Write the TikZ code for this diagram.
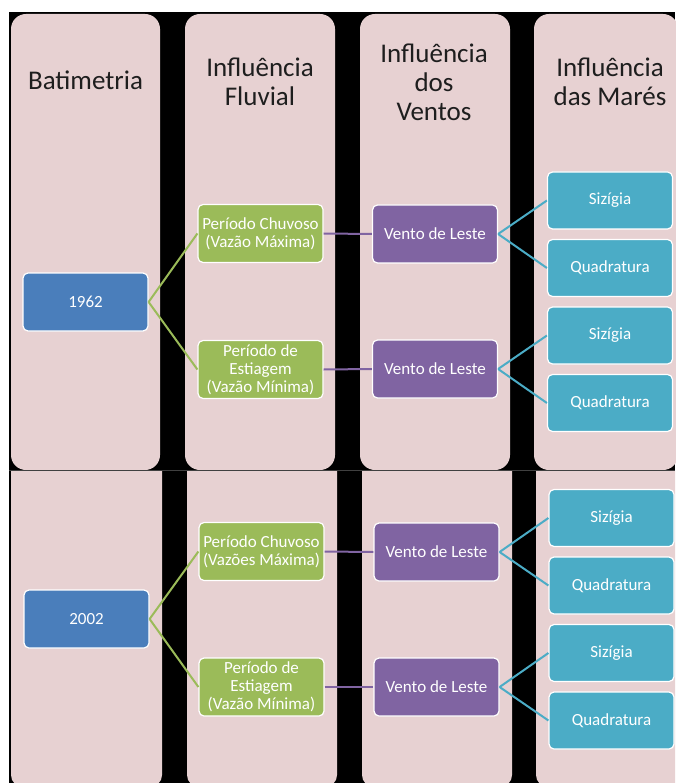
\documentclass[tikz,border=0pt]{standalone}
\usepackage{fontspec}
\setmainfont{Carlito}
\definecolor{colfill}{RGB}{231,209,210}
\definecolor{bblue}{RGB}{74,126,187}
\definecolor{bgreen}{RGB}{155,187,89}
\definecolor{bpurple}{RGB}{128,100,162}
\definecolor{baqua}{RGB}{75,172,198}
\definecolor{htext}{RGB}{30,30,30}
\begin{document}
\begin{tikzpicture}[x=1pt,y=-1pt,
  box/.style={draw=white,line width=1.2pt,rounded corners=5pt,text=white,
    minimum width=125pt,minimum height=58pt,inner sep=1pt,align=center,
    font=\fontsize{17}{18}\selectfont},
  yearbox/.style={box,fill=bblue},
  fluvbox/.style={box,fill=bgreen},
  ventbox/.style={box,fill=bpurple},
  marebox/.style={box,fill=baqua,minimum height=57pt},
  header/.style={text=htext,align=center,font=\fontsize{27}{29}\selectfont},
  gline/.style={draw=bgreen,line width=2pt},
  pline/.style={draw=bpurple,line width=2pt},
  aline/.style={draw=baqua,line width=2pt}]
\useasboundingbox (0,0) rectangle (675,783);
\fill[white] (0,0) rectangle (675,783);
\fill[black] (9,12) rectangle (675,783);
% top panel columns
\foreach \a/\b in {11/160,185/335,360/510,534/678}
  \fill[colfill,rounded corners=15pt] (\a,14) rectangle (\b,470);
% bottom panel columns
\begin{scope}
\clip (0,471) rectangle (675,783);
\foreach \a/\b in {11/162,187/337,362/512,536/678}
  \fill[colfill,rounded corners=12pt] (\a,450) rectangle (\b,787);
\end{scope}
\draw[black!75,line width=0.8pt] (9,470.5) -- (675,470.5);
% headers
\node[header] (h1) at (85.5,80) {Batimetria};
\node[header] (h2) at (260,82) {Influência\\Fluvial};
\node[header] (h3) at (434,82) {Influência\\dos\\Ventos};
\node[header] (h4) at (610,82) {Influência\\das Marés};
% top panel nodes
\node[yearbox] (y1) at (85.5,302) {1962};
\node[fluvbox] (gc1) at (260.5,233.5) {Período Chuvoso\\(Vazão Máxima)};
\node[fluvbox] (ge1) at (260.5,369.5) {Período de\\Estiagem\\(Vazão Mínima)};
\node[ventbox] (v1) at (435,234) {Vento de Leste};
\node[ventbox] (v2) at (435,369) {Vento de Leste};
\node[marebox] (s1) at (610,200.5) {Sizígia};
\node[marebox] (q1) at (610,268) {Quadratura};
\node[marebox] (s2) at (610,335.5) {Sizígia};
\node[marebox] (q2) at (610,403) {Quadratura};
% bottom panel nodes
\node[yearbox] (y2) at (86.5,619) {2002};
\node[fluvbox] (gc2) at (261.5,551.5) {Período Chuvoso\\(Vazões Máxima)};
\node[fluvbox] (ge2) at (261.5,687) {Período de\\Estiagem\\(Vazão Mínima)};
\node[ventbox] (v3) at (436.5,552) {Vento de Leste};
\node[ventbox] (v4) at (436.5,687) {Vento de Leste};
\node[marebox] (s3) at (611.5,518) {Sizígia};
\node[marebox] (q3) at (611.5,585.5) {Quadratura};
\node[marebox] (s4) at (611.5,653) {Sizígia};
\node[marebox] (q4) at (611.5,720.5) {Quadratura};
% connectors
\draw[gline] (y1.east) -- (gc1.west);
\draw[gline] (y1.east) -- (ge1.west);
\draw[pline] (gc1.east) -- (v1.west);
\draw[pline] (ge1.east) -- (v2.west);
\draw[aline] (v1.east) -- (s1.west);
\draw[aline] (v1.east) -- (q1.west);
\draw[aline] (v2.east) -- (s2.west);
\draw[aline] (v2.east) -- (q2.west);
\draw[gline] (y2.east) -- (gc2.west);
\draw[gline] (y2.east) -- (ge2.west);
\draw[pline] (gc2.east) -- (v3.west);
\draw[pline] (ge2.east) -- (v4.west);
\draw[aline] (v3.east) -- (s3.west);
\draw[aline] (v3.east) -- (q3.west);
\draw[aline] (v4.east) -- (s4.west);
\draw[aline] (v4.east) -- (q4.west);
\end{tikzpicture}
\end{document}
